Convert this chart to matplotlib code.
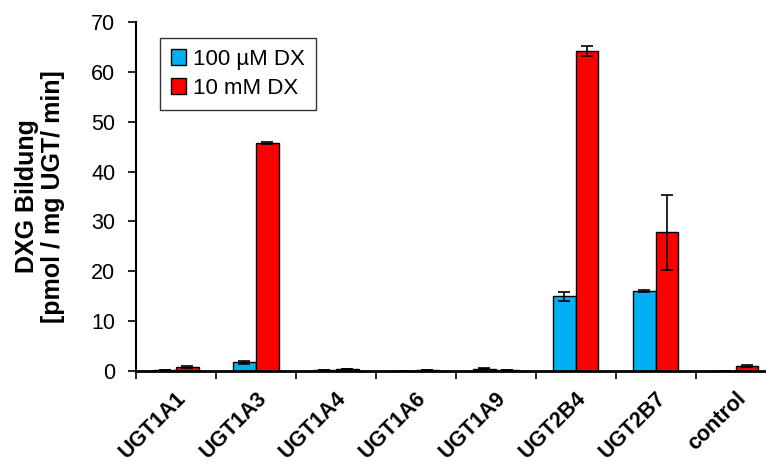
import matplotlib.pyplot as plt
import numpy as np

plt.rcParams['font.family'] = ['Liberation Sans', 'DejaVu Sans']

categories = ["UGT1A1", "UGT1A3", "UGT1A4", "UGT1A6", "UGT1A9", "UGT2B4", "UGT2B7", "control"]
low_dx = [0.2, 1.8, 0.2, 0.0, 0.5, 15.0, 16.0, 0.0]
low_dx_err = [0.05, 0.3, 0.05, 0.0, 0.1, 0.9, 0.2, 0.0]
high_dx = [0.8, 45.7, 0.4, 0.2, 0.2, 64.2, 27.8, 1.1]
high_dx_err = [0.2, 0.2, 0.05, 0.05, 0.05, 1.1, 7.6, 0.2]

fig = plt.figure(figsize=(7.66, 4.70), dpi=100)
ax = fig.add_axes([0.1775, 0.2106, 0.835, 0.7424])

x = np.arange(len(categories))
w = 0.285
err_kw = dict(ecolor='black', elinewidth=1.2, capsize=4, capthick=1.2)
ax.bar(x - w/2, low_dx, w, yerr=low_dx_err, color='#00B0F0', edgecolor='black',
       linewidth=1.0, error_kw=err_kw, label='100 µM DX')
ax.bar(x + w/2, high_dx, w, yerr=high_dx_err, color='#FF0000', edgecolor='black',
       linewidth=1.0, error_kw=err_kw, label='10 mM DX')

ax.set_xlim(-0.5, 7.5)
ax.set_ylim(0, 70)
ax.set_yticks(range(0, 71, 10))
ax.tick_params(axis='y', labelsize=15.5, direction='out', length=6, width=1.2, pad=9)

ax.set_xticks(np.arange(-0.5, 8, 1))
ax.set_xticklabels([])
ax.tick_params(axis='x', which='major', direction='out', length=6, width=1.2)
ax.set_xticks(x, minor=True)
ax.set_xticklabels(categories, minor=True, rotation=45, ha='right',
                   rotation_mode='anchor', fontsize=15.5, fontweight='bold')
ax.tick_params(axis='x', which='minor', length=0, pad=12)

for s in ['top', 'right']:
    ax.spines[s].set_visible(False)
ax.spines['left'].set_linewidth(1.5)
ax.spines['bottom'].set_linewidth(2.0)

ax.set_ylabel("DXG Bildung\n[pmol / mg UGT/ min]", fontsize=18, fontweight='bold',
              labelpad=19, linespacing=1.1)

leg = ax.legend(loc='upper left', bbox_to_anchor=(0.037, 0.955), fontsize=16,
                frameon=True, fancybox=False, edgecolor='black', handlelength=0.7,
                handleheight=0.7, handletextpad=0.3, borderpad=0.5, labelspacing=0.35,
                borderaxespad=0)
leg.get_frame().set_linewidth(1.0)

plt.savefig('out.png', dpi=100)
